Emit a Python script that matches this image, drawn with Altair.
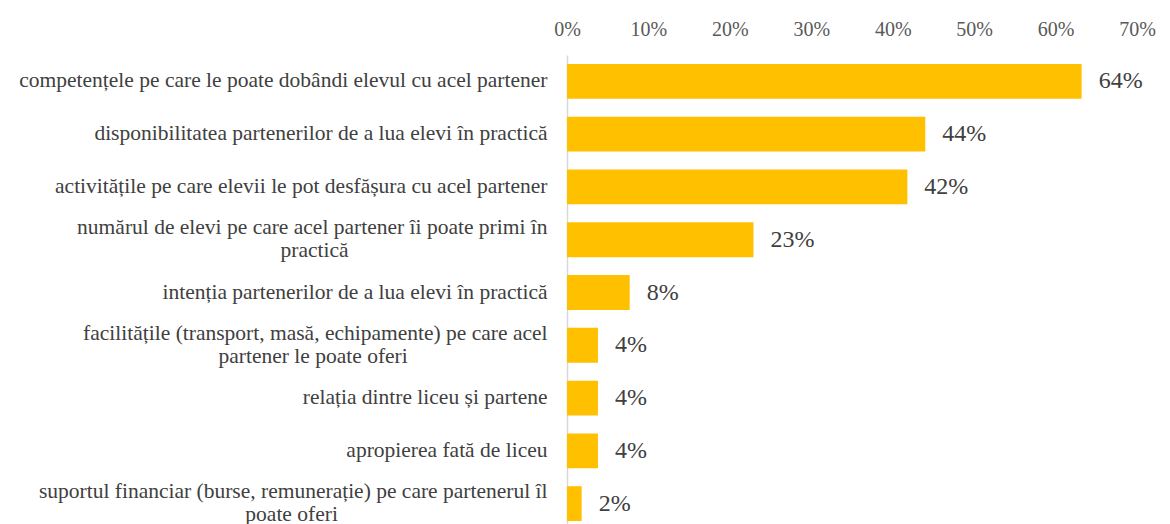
import altair as alt
import pandas as pd

categories = [
    "competențele  pe care le poate dobândi elevul  cu acel partener",
    "disponibilitatea partenerilor de a lua elevi în practică",
    "activitățile  pe care elevii  le pot desfășura cu acel partener",
    "numărul de elevi pe care acel partener îi poate primi în|practică",
    "intenția  partenerilor  de a lua elevi în practică",
    "facilitățile  (transport, masă, echipamente)  pe care acel|partener le poate oferi",
    "relația  dintre liceu  și partene",
    "apropierea fată de liceu",
    "suportul financiar  (burse, remunerație)  pe care partenerul  îl|poate oferi",
]
values = [0.632, 0.44, 0.418, 0.229, 0.077, 0.038, 0.038, 0.038, 0.018]
value_labels = ["64%", "44%", "42%", "23%", "8%", "4%", "4%", "4%", "2%"]

# approximate Times-style advance widths (per 1000 em) used to centre wrapped lines
_W = {" ": 250, "a": 444, "b": 500, "c": 444, "d": 500, "e": 444, "f": 333, "g": 500,
      "h": 500, "i": 278, "j": 278, "k": 500, "l": 278, "m": 778, "n": 500, "o": 500,
      "p": 500, "q": 500, "r": 333, "s": 389, "t": 278, "u": 500, "v": 500, "w": 722,
      "x": 500, "y": 500, "z": 444, "(": 333, ")": 333, ",": 250,
      "ă": 444, "â": 444, "î": 278, "ș": 389, "ț": 278}


def _width(s):
    s = " ".join(s.split())
    return sum(_W.get(ch, 500) for ch in s)


def center_lines(label):
    parts = label.split("|")
    if len(parts) < 2:
        return label
    a, b = parts
    pad = max(0, round((_width(a) - _width(b)) / 2 / 250))
    return a + "|" + b + "\u00a0" * pad + "\u200d"


shown = [center_lines(c) for c in categories]
df = pd.DataFrame({"cat": shown, "val": values, "lab": value_labels})
order = shown

FONT = "Liberation Serif"
LINE_H = 23

base = alt.Chart(df).encode(
    y=alt.Y(
        "cat:N",
        sort=order,
        title=None,
        scale=alt.Scale(paddingInner=0.34, paddingOuter=0.17),
        axis=alt.Axis(
            labelExpr="split(datum.label, '|')",
            labelFont=FONT,
            labelFontSize=21.5,
            labelColor="#404040",
            labelLimit=700,
            labelPadding=20,
            labelLineHeight=LINE_H,
            labelOffset=alt.ExprRef(
                f"indexof(datum.label, '|') >= 0 ? {-LINE_H / 2} : 0"
            ),
            ticks=False,
            domainColor="#d9d9d9",
            domainWidth=1.5,
        ),
    )
)

bars = base.mark_bar(color="#FFC000").encode(
    x=alt.X(
        "val:Q",
        title=None,
        scale=alt.Scale(domain=[0, 0.7], nice=False),
        axis=alt.Axis(
            orient="top",
            format=".0%",
            values=[0, 0.1, 0.2, 0.3, 0.4, 0.5, 0.6, 0.7],
            labelFont=FONT,
            labelFontSize=20,
            labelColor="#595959",
            labelFlush=False,
            grid=False,
            ticks=False,
            domain=False,
            labelPadding=16,
        ),
    )
)

text = base.mark_text(
    align="left", baseline="middle", dx=17, font=FONT, fontSize=24, color="#404040"
).encode(x="val:Q", text="lab:N")

chart = (
    alt.layer(bars, text)
    .properties(
        width=570,
        height=475,
        autosize=alt.AutoSizeParams(type="none"),
        padding={"left": 559, "top": 47, "right": 25, "bottom": 0},
    )
    .configure(background="white", font=FONT)
    .configure_view(stroke=None)
    .configure_axis(labelFont=FONT)
)

chart.save("out.html", embed_options={"renderer": "svg", "actions": False})
